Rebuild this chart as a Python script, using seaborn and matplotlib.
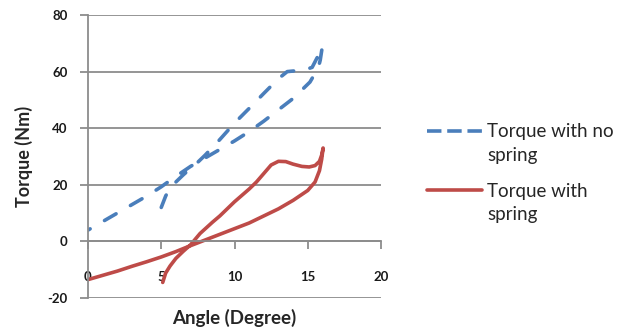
import matplotlib
matplotlib.use("Agg")
import matplotlib.pyplot as plt
import seaborn as sns
import pandas as pd
from matplotlib.lines import Line2D

# Torque with no spring (hysteresis loop, in drawing order)
angle_no_spring = [5.0, 5.3, 5.6, 6.0, 6.5, 7.0, 7.5, 8.0, 9.0, 10.0, 11.0, 12.0, 13.0, 13.6,
                   14.2, 14.8, 15.3, 15.6, 15.85, 16.0,
                   15.85, 15.7, 15.4, 15.15, 14.0, 13.0, 12.0, 11.0, 10.0, 9.0, 8.0, 7.0,
                   6.0, 5.0, 4.0, 3.0, 2.0, 1.0, 0.0]
torque_no_spring = [12.0, 16.0, 19.0, 21.0, 23.5, 25.8, 28.0, 30.5, 36.0, 41.8, 47.0, 52.3, 57.5, 60.0,
                    60.3, 60.6, 61.5, 64.5, 67.0, 69.0,
                    64.0, 61.0, 58.5, 56.3, 50.5, 46.5, 42.5, 38.8, 35.5, 32.5, 29.5, 26.5,
                    23.0, 19.3, 16.0, 13.0, 10.0, 7.0, 4.0]

# Torque with spring (loop, in drawing order)
angle_spring = [0.0, 1.0, 2.0, 3.0, 4.0, 5.0, 6.0, 7.0, 8.0, 9.0, 10.0, 11.0, 12.0, 13.0, 14.0,
                15.0, 15.5, 15.8, 15.95, 16.05,
                15.95, 15.8, 15.5, 15.1, 14.6, 14.0, 13.5, 13.0, 12.5, 12.0, 11.5, 11.0,
                10.0, 9.0, 8.5, 7.65, 7.0, 6.5, 6.0, 5.6, 5.3, 5.1]
torque_spring = [-13.5, -12.0, -10.5, -8.8, -7.2, -5.5, -3.6, -1.5, 0.5, 2.5, 4.5, 6.5, 9.0, 11.5, 14.5,
                 18.0, 21.0, 25.0, 29.0, 33.0,
                 30.5, 28.3, 26.8, 26.3, 26.5, 27.3, 28.2, 28.3, 27.0, 24.0, 21.0, 18.5,
                 14.0, 9.0, 6.8, 2.8, -1.2, -3.5, -6.0, -8.7, -11.2, -14.5]

x_ticks = [0, 5, 10, 15, 20]
y_ticks = [-20, 0, 20, 40, 60, 80]
label_no_spring = ["Torque with no", "spring"]
label_spring = ["Torque with", "spring"]

BLUE = "#4A7EBB"
RED = "#BE4B48"
GRID = "#8C8C8C"
TXT = "#262626"
FONT = ["Lato", "DejaVu Sans"]
LW = 2.6

sns.set_theme(style="white")
plt.rcParams["font.family"] = FONT

W, H = 635, 329
fig = plt.figure(figsize=(W / 100, H / 100), dpi=100)
ax_l, ax_r, ax_t, ax_b = 88, 381, 15, 298
ax = fig.add_axes([ax_l / W, 1 - ax_b / H, (ax_r - ax_l) / W, (ax_b - ax_t) / H])

df_ns = pd.DataFrame({"angle": angle_no_spring, "torque": torque_no_spring})
df_s = pd.DataFrame({"angle": angle_spring, "torque": torque_spring})

sns.lineplot(data=df_ns, x="angle", y="torque", sort=False, estimator=None, ax=ax,
             color=BLUE, linewidth=LW, linestyle=(0, (3.7, 4.6)),
             dash_capstyle="round", solid_capstyle="round")
sns.lineplot(data=df_s, x="angle", y="torque", sort=False, estimator=None, ax=ax,
             color=RED, linewidth=LW, solid_capstyle="round", solid_joinstyle="round")

ax.set_xlim(0, 20)
ax.set_ylim(-20, 80)
ax.set_xticks(x_ticks)
ax.set_yticks(y_ticks)
ax.set_xticklabels([str(v) for v in x_ticks])
ax.set_yticklabels([str(v) for v in y_ticks])

ax.grid(axis="y", color=GRID, linewidth=1.3)
ax.grid(axis="x", visible=False)
ax.set_axisbelow(True)

for s in ["top", "right"]:
    ax.spines[s].set_visible(False)
ax.spines["left"].set_color(GRID)
ax.spines["left"].set_linewidth(1.3)
ax.spines["bottom"].set_position(("data", 0))
ax.spines["bottom"].set_color(GRID)
ax.spines["bottom"].set_linewidth(1.3)

ax.tick_params(axis="x", direction="out", length=5.5, width=1.3, color=GRID, pad=16,
               labelsize=9.5, labelcolor="#1a1a1a", bottom=True)
ax.tick_params(axis="y", direction="out", length=5.5, width=1.3, color=GRID, pad=9,
               labelsize=9.5, labelcolor="#1a1a1a", left=True)
for lbl in ax.get_xticklabels() + ax.get_yticklabels():
    lbl.set_fontweight("bold")

ax.set_xlabel("Angle (Degree)", fontsize=13.5, fontweight="bold", color=TXT)
ax.set_ylabel("Torque (Nm)", fontsize=13, fontweight="bold", color=TXT)
ax.xaxis.set_label_coords(0.5, (ax_b - 309) / (ax_b - ax_t))
ax.yaxis.set_label_coords((24 - ax_l) / (ax_r - ax_l), 0.5)
ax.yaxis.label.set_va("center")

# Legend
LFS = 13.5
handles = [Line2D([], [], color=BLUE, linewidth=LW, linestyle=(0, (4.0, 1.6))),
           Line2D([], [], color=RED, linewidth=LW)]
leg = fig.legend(handles, [label_no_spring[0], label_spring[0]],
                 loc="upper left", bbox_to_anchor=(427 / W, 1 - 123.5 / H),
                 frameon=False, fontsize=LFS, handlelength=2.93, handletextpad=0.27,
                 labelspacing=2.25, borderaxespad=0, borderpad=0)
for t in leg.get_texts():
    t.set_color(TXT)
fig.text(487 / W, 1 - 160.5 / H, label_no_spring[1], fontsize=LFS, color=TXT,
         va="baseline", ha="left")
fig.text(487 / W, 1 - 220 / H, label_spring[1], fontsize=LFS, color=TXT,
         va="baseline", ha="left")

fig.savefig("out.png", dpi=100)
